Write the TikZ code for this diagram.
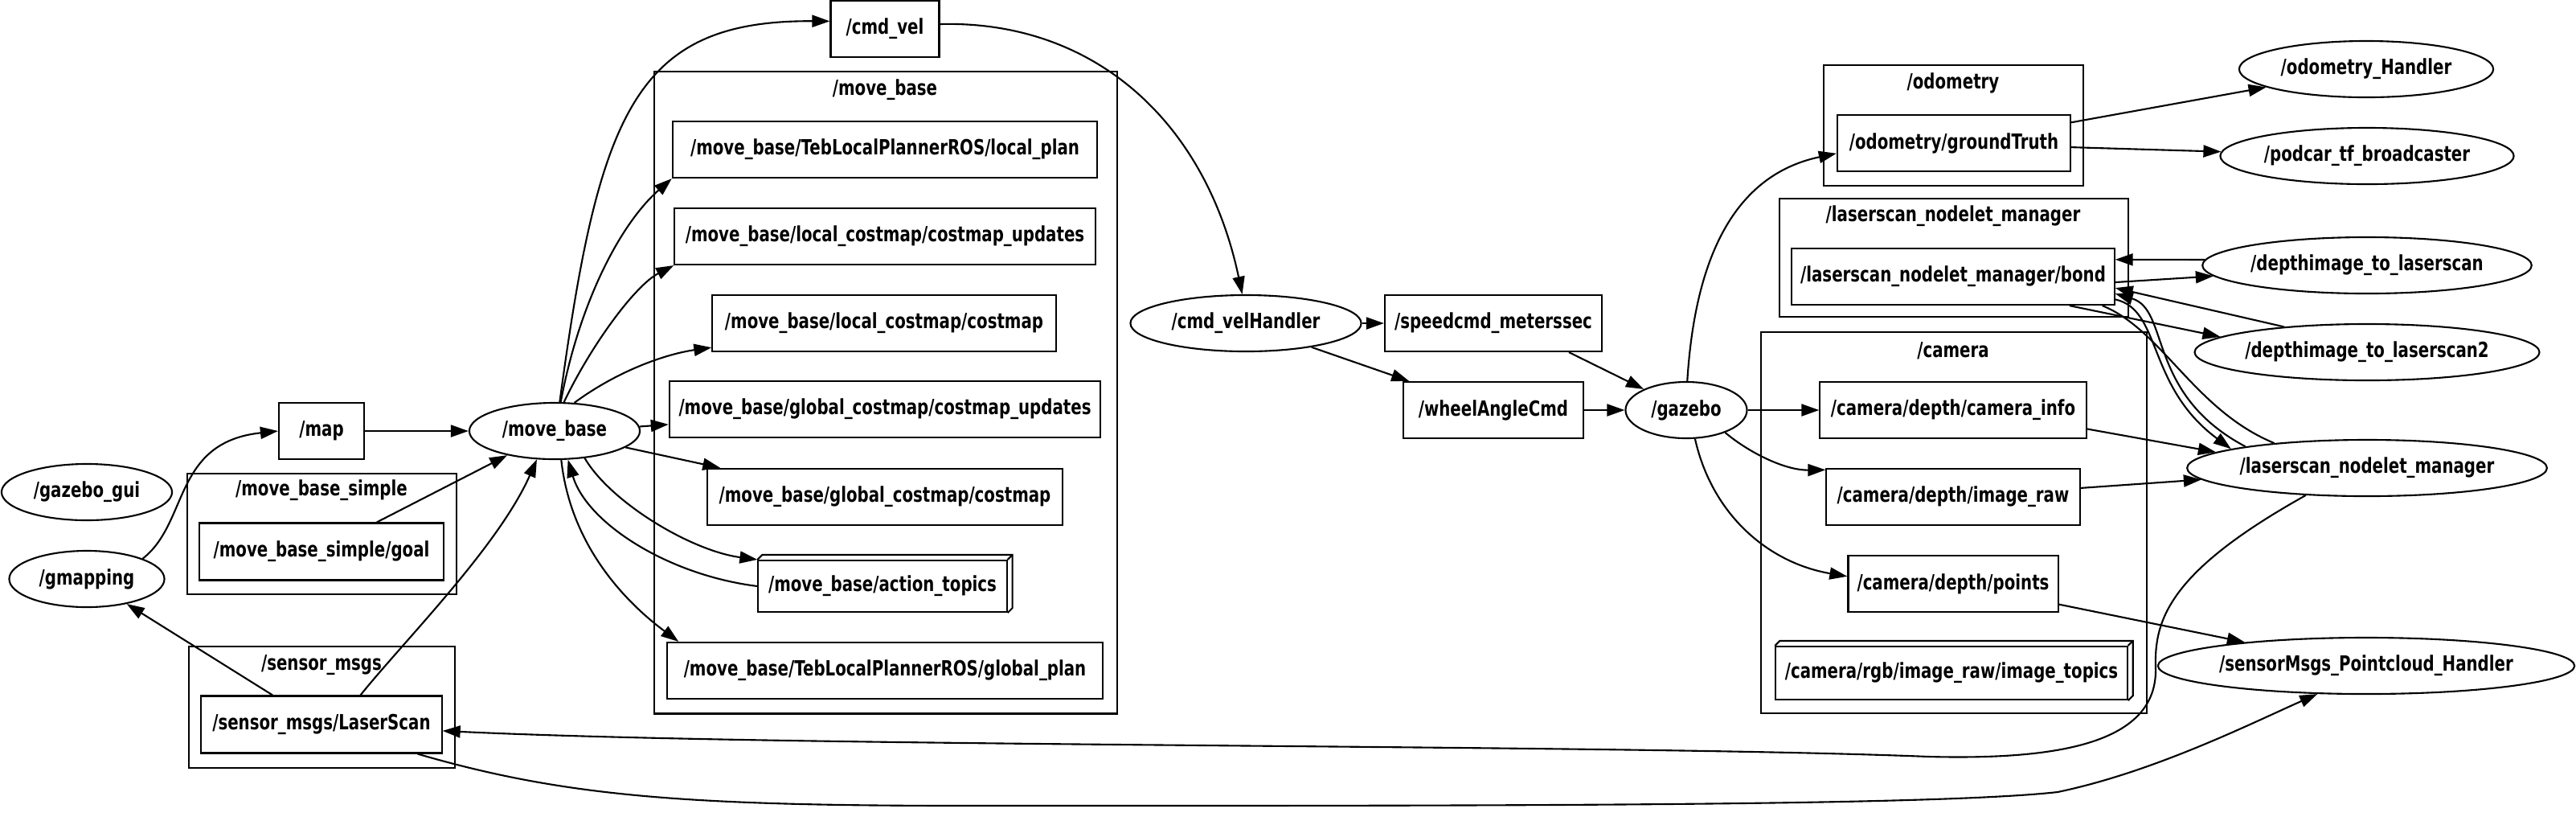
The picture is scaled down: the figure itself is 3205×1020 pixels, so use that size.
\documentclass[tikz,border=0pt]{standalone}
\usepackage{fontspec}
\newfontfamily\lblfont[FakeStretch=0.76]{DejaVu Sans}
\usetikzlibrary{arrows.meta,shapes.geometric}
\tikzset{
  lbl/.style={font=\lblfont\bfseries\fontsize{7.4}{9}\selectfont},
  topic/.style={lbl,draw,line width=0.6pt,inner sep=0pt,minimum height=0.70cm},
  rosnode/.style={lbl,draw,ellipse,line width=0.6pt,inner sep=0pt,minimum height=0.70cm},
  cluster/.style={draw,line width=0.6pt,inner sep=0pt},
  ctitle/.style={lbl},
  wire/.style={line width=0.6pt},
  arr/.style={-{Triangle[length=2.2mm,width=1.5mm]},line width=0.6pt}
}
\begin{document}
\begin{tikzpicture}[x=0.01cm,y=-0.01cm]
\path[use as bounding box] (0,0) rectangle (3205,1020);
% groups
\node[cluster,minimum width=3.35cm,minimum height=1.50cm,anchor=north west] (simplegrp) at (232,588) {};
\node[ctitle] (simpletitle) at (400,610) {/move\_base\_simple};
\node[cluster,minimum width=3.31cm,minimum height=1.51cm,anchor=north west] (sensorgrp) at (234,803) {};
\node[ctitle] (sensortitle) at (400,827) {/sensor\_msgs};
\node[cluster,minimum width=5.76cm,minimum height=7.98cm,anchor=north west] (basegrp) at (813,88) {};
\node[ctitle] (basetitle) at (1101,112) {/move\_base};
\node[cluster,minimum width=3.23cm,minimum height=1.50cm,anchor=north west] (odomgrp) at (2268,80) {};
\node[ctitle] (odomtitle) at (2430,103) {/odometry};
\node[cluster,minimum width=4.34cm,minimum height=1.47cm,anchor=north west] (lsmgrp) at (2213,246) {};
\node[ctitle] (lsmtitle) at (2430,269) {/laserscan\_nodelet\_manager};
\node[cluster,minimum width=4.80cm,minimum height=4.74cm,anchor=north west] (camgrp) at (2190,412) {};
\node[ctitle] (camtitle) at (2430,436) {/camera};
% nodes
\node[rosnode,minimum width=2.12cm] (gazebogui) at (108,612) {/gazebo\_gui};
\node[rosnode,minimum width=1.93cm] (gmapping) at (108,720) {/gmapping};
\node[rosnode,minimum width=2.12cm] (movebase) at (690,536) {/move\_base};
\node[rosnode,minimum width=2.87cm] (velhandler) at (1550,402) {/cmd\_velHandler};
\node[rosnode,minimum width=1.51cm] (gazebo) at (2098,510) {/gazebo};
\node[rosnode,minimum width=3.16cm] (odomhandler) at (2944,86) {/odometry\_Handler};
\node[rosnode,minimum width=3.65cm] (tfcaster) at (2945,194) {/podcar\_tf\_broadcaster};
\node[rosnode,minimum width=4.09cm] (depthscan) at (2945,330) {/depthimage\_to\_laserscan};
\node[rosnode,minimum width=4.25cm] (depthscantwo) at (2945,438) {/depthimage\_to\_laserscan2};
\node[rosnode,minimum width=4.40cm] (lsmanager) at (2945,582) {/laserscan\_nodelet\_manager};
\node[rosnode,minimum width=5.18cm] (pchandler) at (2944,828) {/sensorMsgs\_Pointcloud\_Handler};
% topics
\node[topic,minimum width=1.06cm] (map) at (400,536) {/map};
\node[topic,minimum width=1.35cm] (cmdvel) at (1101,36) {/cmd\_vel};
\node[topic,minimum width=3.03cm,minimum height=0.71cm] (goal) at (400,686) {/move\_base\_simple/goal};
\node[topic,minimum width=2.99cm,minimum height=0.71cm] (laserscan) at (400,901) {/sensor\_msgs/LaserScan};
\node[topic,minimum width=5.28cm] (localplan) at (1101,186) {/move\_base/TebLocalPlannerROS/local\_plan};
\node[topic,minimum width=5.23cm] (lcupdates) at (1101,294) {/move\_base/local\_costmap/costmap\_updates};
\node[topic,minimum width=4.27cm] (lcostmap) at (1100,402) {/move\_base/local\_costmap/costmap};
\node[topic,minimum width=5.36cm] (gcupdates) at (1101,509) {/move\_base/global\_costmap/costmap\_updates};
\node[topic,minimum width=4.41cm] (gcostmap) at (1101,618) {/move\_base/global\_costmap/costmap};
\node[topic,minimum width=3.09cm,minimum height=0.64cm] (actiontopics) at (1098,729) {/move\_base/action\_topics};
\node[topic,minimum width=5.42cm] (globalplan) at (1101,834) {/move\_base/TebLocalPlannerROS/global\_plan};
\node[topic,minimum width=2.70cm] (speedcmd) at (1858,402) {/speedcmd\_meterssec};
\node[topic,minimum width=2.24cm] (wheelcmd) at (1858,510) {/wheelAngleCmd};
\node[topic,minimum width=2.90cm] (groundtruth) at (2431,178) {/odometry/groundTruth};
\node[topic,minimum width=4.01cm] (bond) at (2430,344) {/laserscan\_nodelet\_manager/bond};
\node[topic,minimum width=3.31cm] (caminfo) at (2430,510) {/camera/depth/camera\_info};
\node[topic,minimum width=3.15cm] (imageraw) at (2430,618) {/camera/depth/image\_raw};
\node[topic,minimum width=2.61cm] (points) at (2430,726) {/camera/depth/points};
\node[topic,minimum width=4.37cm,minimum height=0.66cm] (imagetopics) at (2428,837) {/camera/rgb/image\_raw/image\_topics};
\draw[wire] (actiontopics.north west) -- ++(6,-6) -- ([shift={(6,-6)}]actiontopics.north east) -- ([shift={(6,-6)}]actiontopics.south east) -- (actiontopics.south east);
\draw[wire] (actiontopics.north east) -- ++(6,-6);
\draw[wire] (imagetopics.north west) -- ++(6,-6) -- ([shift={(6,-6)}]imagetopics.north east) -- ([shift={(6,-6)}]imagetopics.south east) -- (imagetopics.south east);
\draw[wire] (imagetopics.north east) -- ++(6,-6);
% edges, left part
\draw[arr] (gmapping.20) .. controls (235,650) and (215,550) .. (map.west);
\draw[arr] (map) -- (movebase);
\draw[arr] (goal.28) -- (movebase);
\draw[arr] (laserscan.149) -- (gmapping);
\draw[arr] (laserscan.37) .. controls (500,800) and (620,680) .. (movebase.238);
\draw[arr] (movebase.80) .. controls (745,140) and (790,25) .. (cmdvel.172);
\draw[arr] (cmdvel.5) .. controls (1360,25) and (1500,150) .. (velhandler.97);
\draw[arr] (movebase.78) .. controls (720,380) and (770,280) .. (localplan.south west);
\draw[arr] (movebase.72) .. controls (735,430) and (790,355) .. (lcupdates.south west);
\draw[arr] (movebase.55) .. controls (770,460) and (830,440) .. (lcostmap.188);
\draw[arr] (movebase.3) -- (gcupdates.184);
\draw[arr] (movebase.347) -- (gcostmap.170);
\draw[arr] (movebase.318) .. controls (760,625) and (860,685) .. (actiontopics.north west);
\draw[arr] (actiontopics.west) .. controls (830,715) and (730,650) .. (movebase.295);
\draw[arr] (movebase.283) .. controls (710,680) and (780,750) .. (globalplan.172);
% edges, middle part
\draw[arr] (velhandler) -- (speedcmd);
\draw[arr] (velhandler.340) -- (wheelcmd.161);
\draw[arr] (speedcmd.339) -- (gazebo);
\draw[arr] (wheelcmd) -- (gazebo);
\draw[arr] (gazebo.88) .. controls (2110,300) and (2170,215) .. (groundtruth.185);
\draw[arr] (gazebo) -- (caminfo);
\draw[arr] (gazebo.330) .. controls (2175,562) and (2220,585) .. (imageraw.168);
\draw[arr] (gazebo.287) .. controls (2130,640) and (2200,700) .. (points.176);
% edges, right part
\draw[arr] (groundtruth.10) -- (odomhandler);
\draw[arr] (groundtruth.358) -- (tfcaster);
\draw[arr] (depthscan.178) -- (bond.6);
\draw[arr] (bond.358) -- (depthscan.184);
\draw[arr] (depthscantwo.163) -- (bond.356);
\draw[arr] (bond.346) -- (depthscantwo.174);
\draw[arr] (bond.352) .. controls (2690,385) and (2670,480) .. (lsmanager.172);
\draw[arr] (lsmanager.170) .. controls (2670,490) and (2700,385) .. (bond.354);
\draw[wire] (bond.349) .. controls (2690,410) and (2730,510) .. (lsmanager.165);
\draw[arr] (caminfo.352) -- (lsmanager.174);
\draw[arr] (imageraw.4) -- (lsmanager.184);
\draw[arr] (points.349) -- (pchandler.169);
\draw[arr] (lsmanager.204) .. controls (2700,710) and (2680,770) .. (2682,830) .. controls (2685,925) and (2560,945) .. (2400,941) .. controls (2000,925) and (1000,930) .. (laserscan.357);
\draw[arr] (laserscan.343) .. controls (700,990) and (850,1002) .. (1200,1002) .. controls (1800,1002) and (2400,1003) .. (2560,985) .. controls (2680,960) and (2800,900) .. (pchandler.210);
\end{tikzpicture}
\end{document}
